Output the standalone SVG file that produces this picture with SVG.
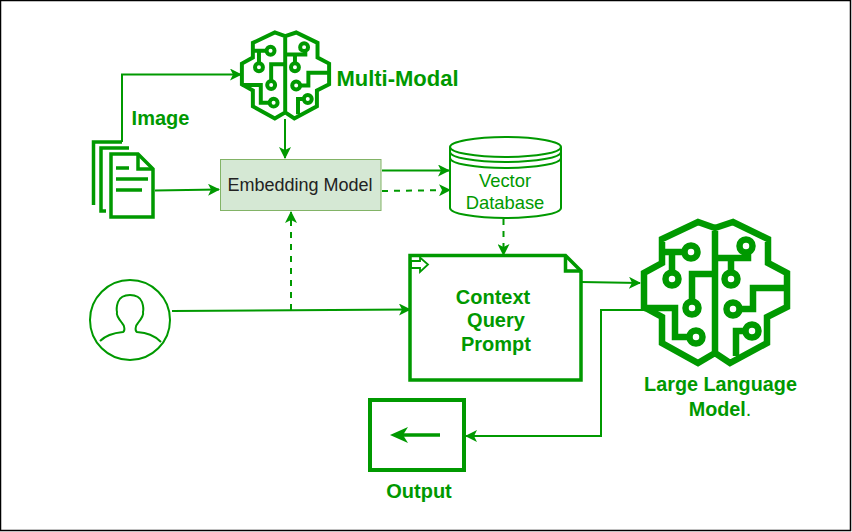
<svg xmlns="http://www.w3.org/2000/svg" xmlns:xlink="http://www.w3.org/1999/xlink" width="852" height="532" viewBox="0 0 852 532">
<style>
text{font-family:"Liberation Sans",Arial,sans-serif;fill:#009900;text-anchor:middle}
.b{font-weight:bold}
.l{fill:none;stroke:#009900;stroke-width:2}
.d{stroke-dasharray:6 6}
.s{fill:none;stroke:#009900;stroke-linejoin:miter}
.brain{fill:none;stroke:#009900;stroke-width:6.500}
</style>
<defs>
<marker id="a" viewBox="0 0 12 12" refX="11" refY="6" markerWidth="12" markerHeight="12" markerUnits="userSpaceOnUse" orient="auto"><path d="M0,0L12,6L0,12L3,6Z" fill="#009900"/></marker>
<symbol id="brainIcon" overflow="visible">
<g class="brain">
<path d="M715,228L698,222L662,239V263L644,273V307L662,317V343L698,363L715,353V228L733,222L768,239V263L787,273V307L767,317V343L730,363L715,353"/>
<path d="M662,252H684M672,252V272M715,274H692V301M644,308H675V337H689M715,258H748V253M731,258V272M787,288H753V309H740M744,331H736V356"/>
<circle cx="691" cy="252" r="6.500"/><circle cx="672" cy="279" r="6.500"/><circle cx="692" cy="308" r="6.500"/><circle cx="696" cy="337" r="6.500"/>
<circle cx="746" cy="246" r="6.500"/><circle cx="731" cy="279" r="6.500"/><circle cx="733" cy="309" r="6.500"/><circle cx="752" cy="331" r="6.500"/>
</g>
</symbol>
</defs>
<rect x="0.500" y="0.500" width="850" height="530" fill="#fff" stroke="#000" stroke-width="1.500"/>
<g id="connectors">
<path class="l" d="M122,142V74.500H241" marker-end="url(#a)"/>
<path class="l" d="M285,119V158" marker-end="url(#a)"/>
<path class="l" d="M155,190.500L219,189.500" marker-end="url(#a)"/>
<path class="l" d="M382,170.500H449" marker-end="url(#a)"/>
<path class="l d" d="M382,191L450,190" marker-end="url(#a)"/>
<path class="l d" d="M503.500,219V255" marker-end="url(#a)"/>
<path class="l" d="M172,311L410,309.500" marker-end="url(#a)"/>
<path class="l d" d="M291,310V212" marker-end="url(#a)"/>
<path class="l" d="M581,282L640,283" marker-end="url(#a)"/>
<path class="l" d="M644,310H601V436H466" marker-end="url(#a)"/>
</g>
<g id="multimodal">
<use xlink:href="#brainIcon" href="#brainIcon" transform="translate(285.500 75.500) scale(.61) translate(-715.500 -292.500)"/>
<text class="b" x="397.500" y="86" font-size="22">Multi-Modal</text>
</g>
<g id="documents">
<path class="s" stroke-width="3.500" d="M93.500,205V142H122M106,211H101V148H129"/>
<path class="s" stroke-width="3.500" fill="#fff" d="M111,154H138L153,169V217H111Z"/>
<path class="s" stroke-width="3.500" d="M138,154V169H153M116,168H129M116,179H148M116,190H142"/>
<text class="b" x="160.500" y="125" font-size="20">Image</text>
</g>
<g id="embedding">
<rect x="220.500" y="159.500" width="160.500" height="51" fill="#d5e8d4" stroke="#82b366"/>
<text x="300" y="191" font-size="18" style="fill:#222">Embedding Model</text>
</g>
<g id="vectordb">
<path class="l" fill="#fff" d="M450,147A55.500,10 0 0 1 561,147V208A55.500,10 0 0 1 450,208Z"/>
<path class="l" d="M450,147A55.500,10 0 0 0 561,147M450,152A55.500,10 0 0 0 561,152M450,158A55.500,10 0 0 0 561,158"/>
<text x="505" y="187" font-size="18.400">Vector</text>
<text x="505" y="209" font-size="18.400">Database</text>
</g>
<g id="user">
<circle class="l" cx="130" cy="320" r="40"/>
<path class="l" d="M100,341C106,335 113,333 123,332C125,331 125,326 122,323C118,318 116,315 117,312C116,308 117,305 118,302C120,297 125,295 130,295C135,295 140,297 142,302C143,305 144,308 143,312C144,315 142,318 138,323C135,326 135,331 137,332C147,333 154,335 161,342"/>
</g>
<g id="prompt">
<path class="s" stroke-width="3.500" fill="#fff" d="M410,255.500H565.500L581,271V380H410Z"/>
<path class="s" stroke-width="3.500" d="M565.500,255.500V271H581"/>
<path class="s" stroke-width="1.800" fill="#fff" d="M411,261H420V257.500L428,264.500L420,272V268H411Z"/>
<text class="b" x="493" y="304" font-size="20">Context</text>
<text class="b" x="496" y="327" font-size="20">Query</text>
<text class="b" x="496" y="351" font-size="20">Prompt</text>
</g>
<g id="llm">
<use xlink:href="#brainIcon" href="#brainIcon"/>
<text class="b" x="720.500" y="391" font-size="19.800">Large Language</text>
<text class="b" x="720" y="416" font-size="19.800">Model<tspan font-weight="normal">.</tspan></text>
</g>
<g id="output">
<rect x="370" y="400" width="94" height="70" fill="#fff" stroke="#009900" stroke-width="4"/>
<path d="M440,435H400" stroke="#009900" stroke-width="3.500" fill="none"/>
<path d="M390,435L408,427L403,435L408,443Z" fill="#009900"/>
<text class="b" x="419" y="498" font-size="20">Output</text>
</g>
</svg>
